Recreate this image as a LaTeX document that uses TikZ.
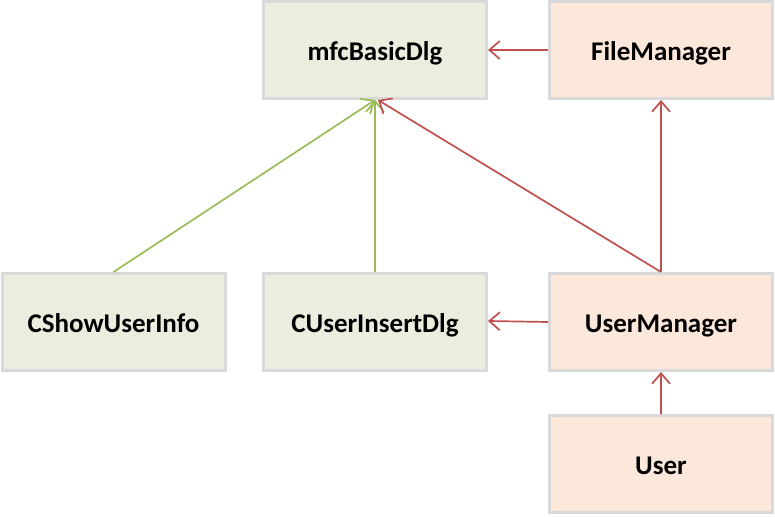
\documentclass[tikz,border=0pt]{standalone}
\usepackage{fontspec}
\setmainfont{Carlito}
\usetikzlibrary{arrows.meta}

\definecolor{boxgray}{HTML}{D9D9D9}
\definecolor{dlggreen}{HTML}{EBEEDE}
\definecolor{mgrorange}{HTML}{FCE8DA}
\definecolor{linkred}{HTML}{C0504D}
\definecolor{linkgreen}{HTML}{9BBB59}

\begin{document}
\begin{tikzpicture}[x=1pt, y=-1pt,
   classbox/.style={draw=boxgray, line width=3pt, minimum width=223pt, minimum height=97pt,
                    text height=25pt, text depth=3.6pt, font=\fontsize{27}{30}\selectfont\bfseries},
   dlgbox/.style={classbox, fill=dlggreen},
   mgrbox/.style={classbox, fill=mgrorange},
   redlink/.style={draw=linkred, line width=1.7pt, -{Straight Barb[length=10.5pt, width=18pt, line width=1.7pt]}},
   greenlink/.style={draw=linkgreen, line width=1.7pt, -{Straight Barb[length=10.5pt, width=18pt, line width=1.7pt]}}]
   \useasboundingbox (0, 0) rectangle (775, 516);

   \node[dlgbox] (mfc) at (375, 50) {mfcBasicDlg};
   \node[mgrbox] (filemgr) at (661, 50) {FileManager};
   \node[dlgbox] (cshow) at (113.5, 322) {CShowUserInfo};
   \node[dlgbox] (cinsert) at (375, 322) {CUserInsertDlg};
   \node[mgrbox] (usermgr) at (661, 322) {UserManager};
   \node[mgrbox] (user) at (661, 464) {User};

   \draw[greenlink] (cshow.north) -- (mfc.south);
   \draw[greenlink] (cinsert.north) -- (mfc.south);
   \draw[redlink] (usermgr.north) -- ([xshift=3pt]mfc.south);
   \draw[redlink] (usermgr.north) -- (filemgr.south);
   \draw[redlink] (filemgr.west) -- (mfc.east);
   \draw[redlink] (usermgr.west) -- ([yshift=1pt]cinsert.east);
   \draw[redlink] (user.north) -- (usermgr.south);
\end{tikzpicture}
\end{document}
